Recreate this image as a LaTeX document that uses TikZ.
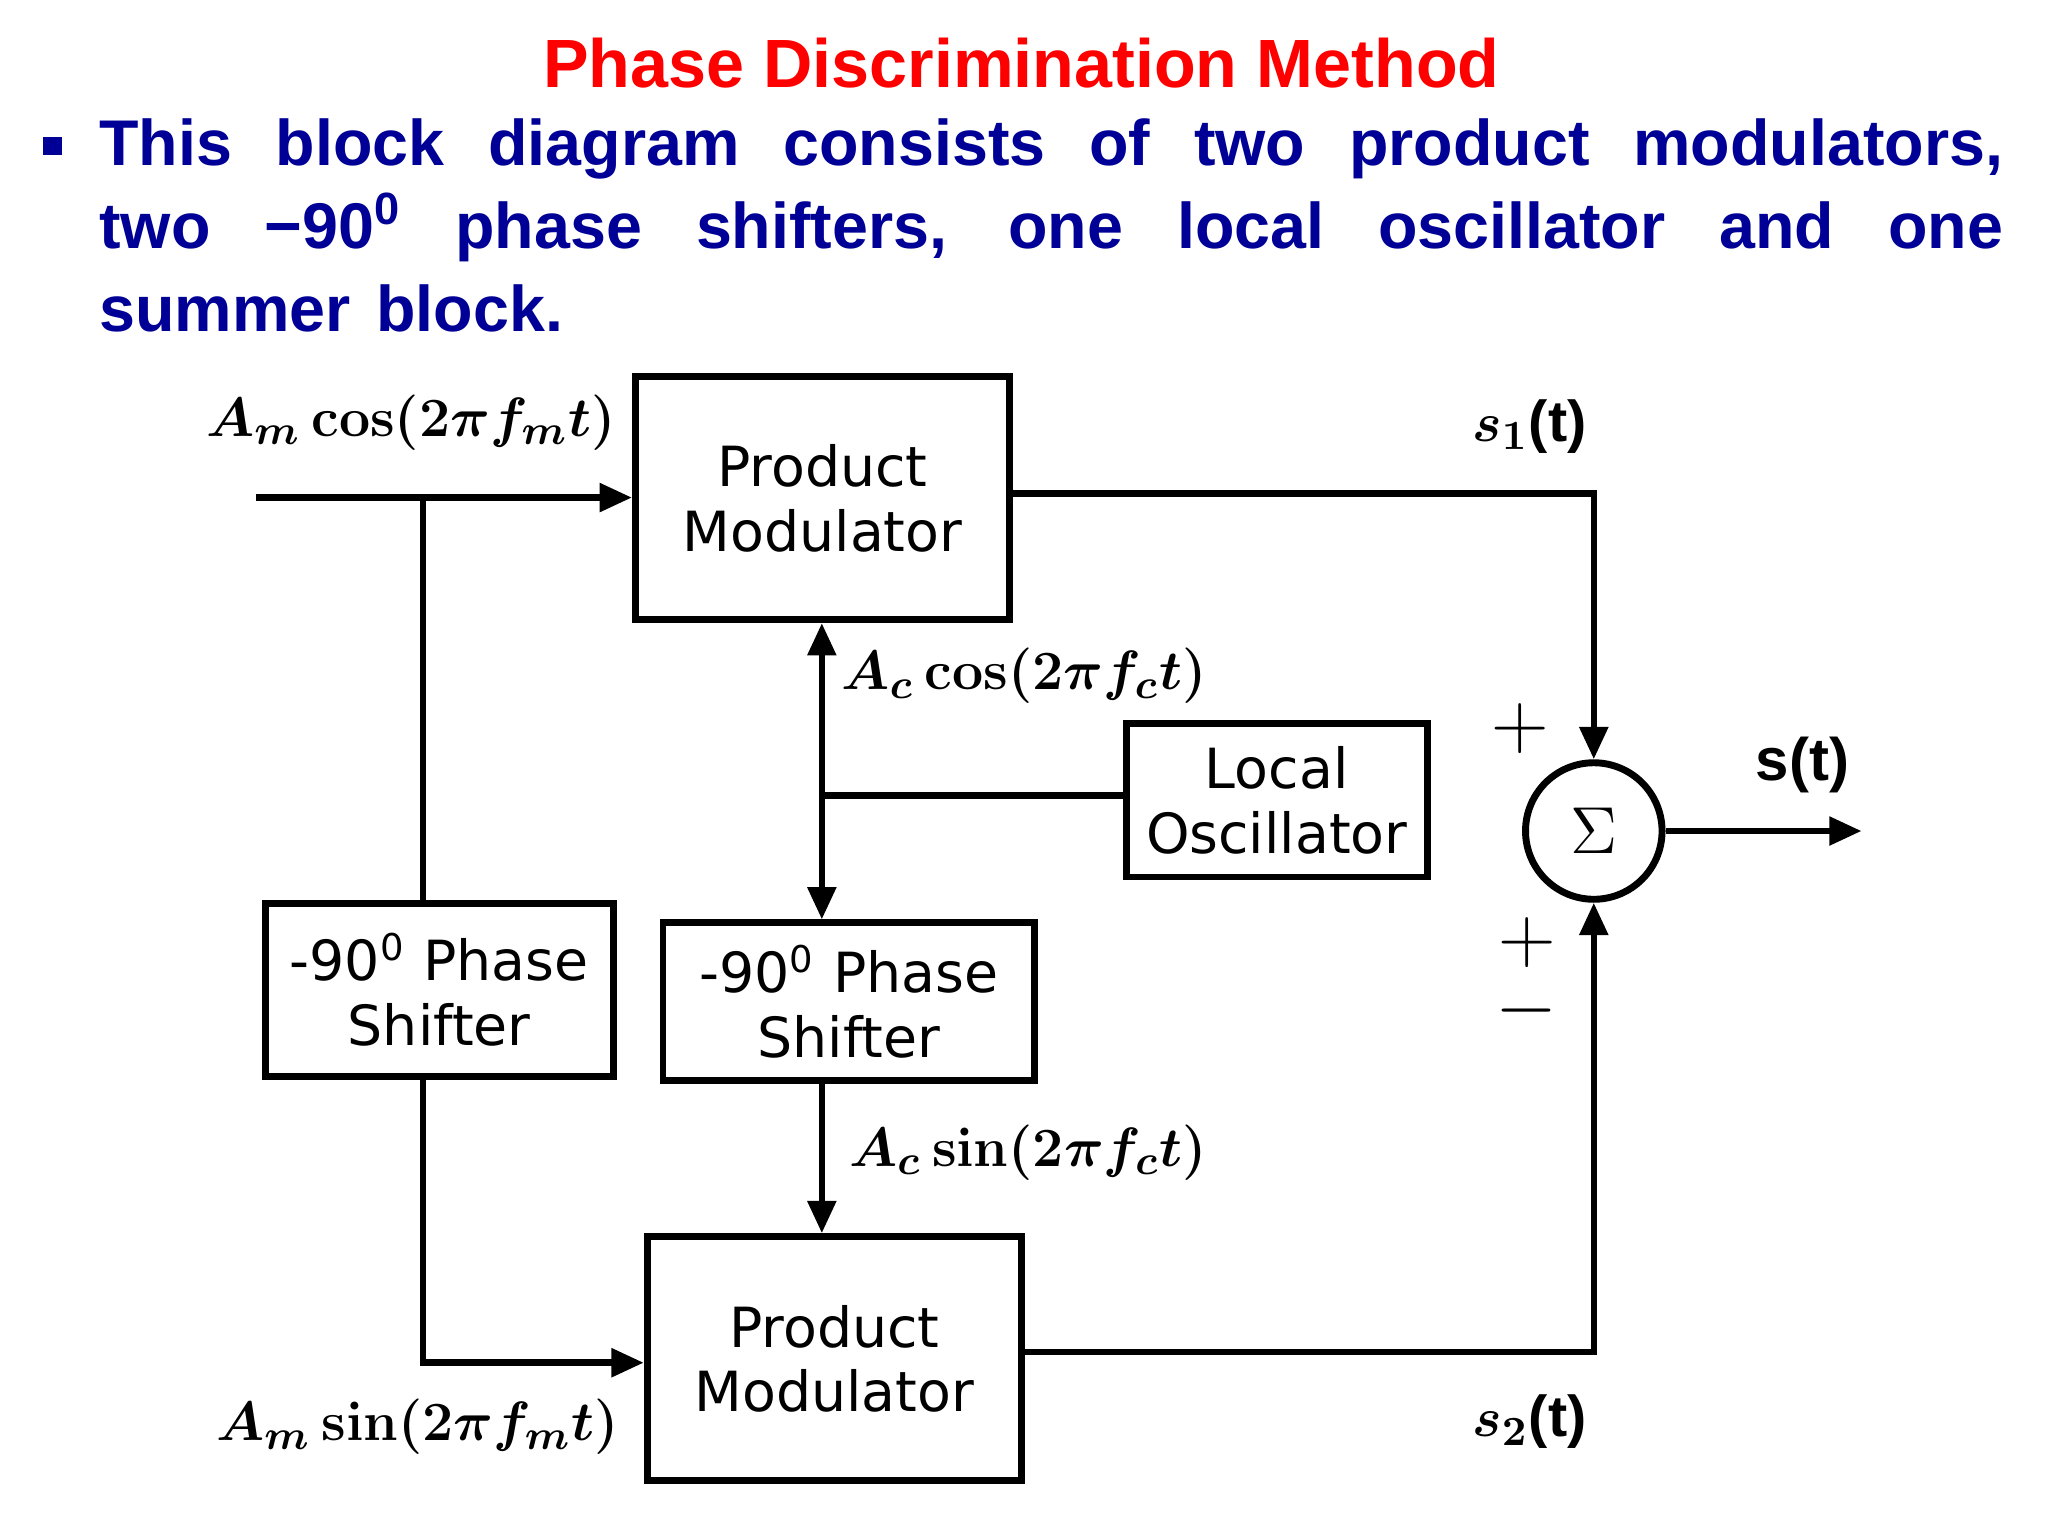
\documentclass[tikz,border=0pt]{standalone}
\usepackage{amsmath}
\usepackage[no-math]{fontspec}
\setmainfont{Liberation Sans}
\newfontfamily\dv{DejaVu Sans}
\usetikzlibrary{arrows.meta}
\definecolor{navy}{RGB}{0,0,150}
\begin{document}
\begin{tikzpicture}[x=1cm,y=-1cm,
  blk/.style={draw,line width=1.5pt,align=center,font=\dv\fontsize{12}{14}\selectfont,inner sep=0pt},
  ln/.style={line width=1.4pt},
  ar/.style={ln,-{Triangle[length=7pt,width=6pt]}},
  lab/.style={font=\fontsize{12.5}{14}\selectfont\boldmath},
  sg/.style={font=\fontsize{18}{18}\selectfont,inner sep=0pt}]
\useasboundingbox (0,0) rectangle (15.6,11.7);
\fill[white] (0,0) rectangle (15.6,11.7);
\node[font=\bfseries\fontsize{14.8}{17}\selectfont,text=red] (title) at (7.78,0.48) {Phase Discrimination Method};
\fill[navy] (0.33,1.04) rectangle (0.47,1.18);
\node[font=\bfseries\fontsize{14}{18}\selectfont,text=navy,text width=14.5cm,align=justify,anchor=north west,inner sep=0pt] (body) at (0.75,0.90)
{\spaceskip=0.4em plus 2em This block diagram consists of two product modulators, two −90\textsuperscript{0} phase shifters, one local oscillator and one summer block.};
% boxes
\node[blk,minimum width=2.85cm,minimum height=1.85cm] (pm1) at (6.265,3.795) {Product\\Modulator};
\node[blk,minimum width=2.65cm,minimum height=1.32cm] (ps1) at (3.345,7.54) {-90\textsuperscript{0} Phase\\Shifter};
\node[blk,minimum width=2.83cm,minimum height=1.2cm] (ps2) at (6.465,7.63) {-90\textsuperscript{0} Phase\\Shifter};
\node[blk,minimum width=2.29cm,minimum height=1.17cm] (lo) at (9.725,6.095) {Local\\Oscillator};
\node[blk,minimum width=2.85cm,minimum height=1.86cm] (pm2) at (6.355,10.35) {Product\\Modulator};
\node[draw,circle,line width=1.5pt,minimum size=1.04cm,inner sep=0pt,font=\fontsize{14}{14}\selectfont] (sum) at (12.14,6.33) {$\Sigma$};
% coordinates
\coordinate (in) at (1.95,3.79);
\coordinate (j1) at (3.22,3.79);
\coordinate (j2) at (6.26,6.06);
\coordinate (out) at (14.18,6.33);
% connectors
\draw[ar] (in) -- (pm1.west |- in);
\draw[ln] (j1) -- (j1 |- ps1.north);
\draw[ar] (j1 |- ps1.south) |- (pm2.west |- 0,10.38);
\draw[ln] (lo.west |- j2) -- (j2);
\draw[ar] (j2) -- (pm1.south -| j2);
\draw[ar] (j2) -- (ps2.north -| j2);
\draw[ar] (ps2.south -| j2) -- (pm2.north -| j2);
\draw[ar] (pm1.east |- 0,3.76) -| (sum.north);
\draw[ar] (pm2.east |- 0,10.30) -| (sum.south);
\draw[ar] (sum.east) -- (out);
% labels
\node[lab] (l1) at (3.13,3.22) {$A_m\cos(2\pi f_m t)$};
\node[lab] (l2) at (7.8,5.15) {$A_c\cos(2\pi f_c t)$};
\node[lab] (l3) at (7.83,8.78) {$A_c\sin(2\pi f_c t)$};
\node[lab] (l4) at (3.18,10.87) {$A_m\sin(2\pi f_m t)$};
\node[lab] (s1) at (11.65,3.25) {$s_1$\textbf{(t)}};
\node[lab] (s2) at (11.65,10.83) {$s_2$\textbf{(t)}};
\node[font=\bfseries\fontsize{13}{14}\selectfont] (st) at (13.73,5.83) {s(t)};
\node[sg] (p1) at (11.58,5.55) {$+$};
\node[sg] (p2) at (11.63,7.18) {$+$};
\node[sg] (m2) at (11.63,7.7) {$-$};
\end{tikzpicture}
\end{document}
